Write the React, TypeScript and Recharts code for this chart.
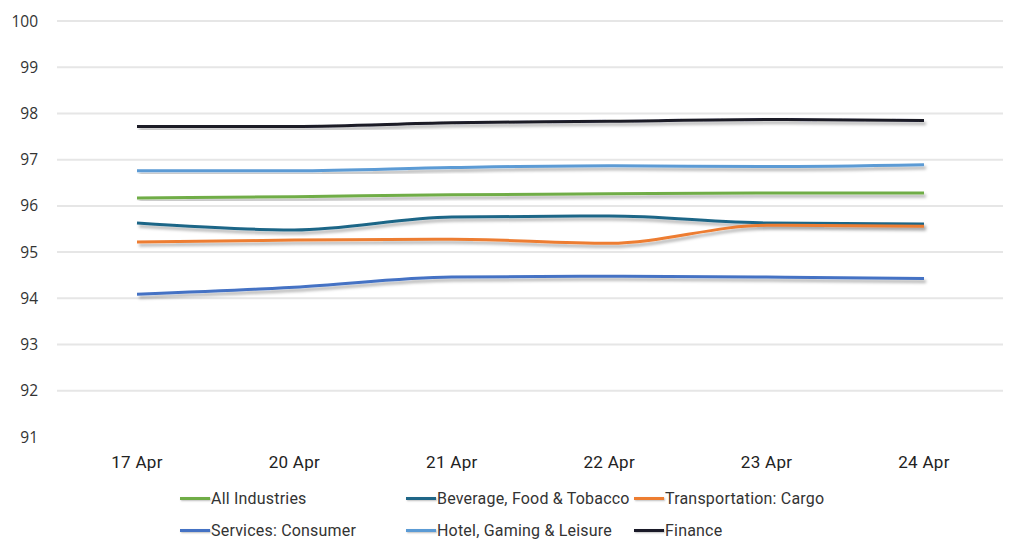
import { LineChart, Line, XAxis, YAxis, CartesianGrid, Legend } from "recharts";

document.body.style.margin = "0";

const dates = ["17 Apr", "20 Apr", "21 Apr", "22 Apr", "23 Apr", "24 Apr"];
const yTicks = [91, 92, 93, 94, 95, 96, 97, 98, 99, 100];

const allIndustries = [96.17, 96.2, 96.24, 96.26, 96.28, 96.28];
const beverage = [95.63, 95.48, 95.76, 95.78, 95.63, 95.61];
const cargo = [95.22, 95.26, 95.28, 95.19, 95.58, 95.56];
const consumer = [94.09, 94.24, 94.46, 94.48, 94.46, 94.43];
const hotel = [96.76, 96.76, 96.83, 96.87, 96.85, 96.89];
const finance = [97.72, 97.72, 97.8, 97.83, 97.87, 97.85];

const series = [
  { key: "all", name: "All Industries", color: "#70AD47", values: allIndustries },
  { key: "bev", name: "Beverage, Food & Tobacco", color: "#1F6687", values: beverage },
  { key: "cargo", name: "Transportation: Cargo", color: "#ED7D31", values: cargo },
  { key: "cons", name: "Services: Consumer", color: "#4472C4", values: consumer },
  { key: "hotel", name: "Hotel, Gaming & Leisure", color: "#5B9BD5", values: hotel },
  { key: "fin", name: "Finance", color: "#1A1A28", values: finance },
];

const data = dates.map((d, i) => {
  const row: Record<string, any> = { date: d };
  series.forEach((s) => (row[s.key] = s.values[i]));
  return row;
});

const narrow = "Roboto, 'Open Sans', sans-serif";

// legend in series order (recharts would sort it by name)
function LegendBox() {
  const colW = [226, 228, 200];
  return (
    <div
      style={{
        display: "grid",
        gridTemplateColumns: colW.map((w) => w + "px").join(" "),
        gridAutoRows: "32px",
        paddingLeft: 180,
        fontFamily: narrow,
        fontSize: 16,
        letterSpacing: 0.2,
        color: "#333",
        height: 64,
      }}
    >
      {series.map((s) => (
        <div key={s.key} style={{ display: "flex", alignItems: "center", whiteSpace: "nowrap" }}>
          <span
            style={{
              display: "inline-block",
              width: 30,
              height: 3,
              background: s.color,
              marginRight: 1,
              boxShadow: "1px 1px 2px rgba(0,0,0,0.25)",
            }}
          />
          <span>{s.name}</span>
        </div>
      ))}
    </div>
  );
}

// skip the bottom grid line (91), the reference has none there
function GridLine(props: any) {
  if (props.index === 0) return <g />;
  const { x1, y1, x2, y2 } = props;
  return <line x1={x1} y1={y1} x2={x2} y2={y2} stroke="#e6e6e6" strokeWidth={2} />;
}

export default function App() {
  return (
    <div style={{ width: 1024, height: 555, background: "#fff", position: "relative" }}>
      <svg width="0" height="0" style={{ position: "absolute" }}>
        <defs>
          <filter id="lineShadow" x="-5%" y="-50%" width="110%" height="200%">
            <feDropShadow dx="2" dy="3" stdDeviation="1.6" floodColor="#000" floodOpacity="0.3" />
          </filter>
        </defs>
      </svg>
      <LineChart
        width={1024}
        height={555}
        data={data}
        margin={{ top: 21, right: 21, left: 0, bottom: 9 }}
      >
        <CartesianGrid vertical={false} horizontal={(p: any) => <GridLine {...p} />} />
        <XAxis
          dataKey="date"
          axisLine={false}
          tickLine={false}
          tickMargin={13}
          height={45}
          interval={0}
          padding={{ left: 80, right: 79 }}
          tick={{ fill: "#222", fontSize: 17, fontFamily: narrow, letterSpacing: 0.3 }}
        />
        <YAxis
          domain={[91, 100]}
          ticks={yTicks}
          axisLine={false}
          tickLine={false}
          tickMargin={13}
          width={57}
          interval={0}
          tick={{ fill: "#333", fontSize: 15.5, fontFamily: "'Open Sans', sans-serif" }}
        />
        <Legend verticalAlign="bottom" content={<LegendBox />} />
        {series.map((s) => (
          <Line
            key={s.key}
            type="monotone"
            dataKey={s.key}
            name={s.name}
            stroke={s.color}
            strokeWidth={3}
            dot={false}
            activeDot={false}
            filter="url(#lineShadow)"
            isAnimationActive={false}
          />
        ))}
      </LineChart>
    </div>
  );
}
